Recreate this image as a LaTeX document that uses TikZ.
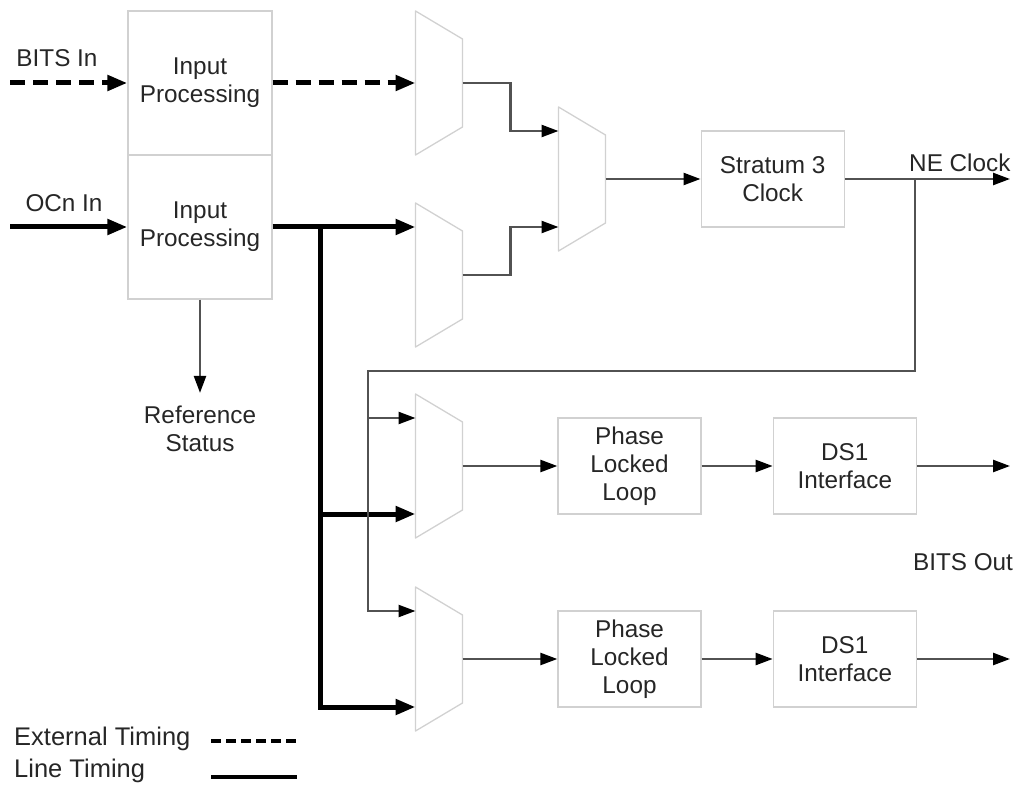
\documentclass[tikz,border=0pt]{standalone}
\usepackage{fontspec}
\setmainfont{Liberation Sans}
\usetikzlibrary{arrows.meta,calc,positioning}

\begin{document}
\begin{tikzpicture}[x=1pt,y=-1pt,
    every node/.style={font=\fontsize{24.3}{28}\selectfont, text=black!85},
    blk/.style={draw=black!18, line width=1.3pt, align=center, inner sep=0pt,
      minimum width=143pt, minimum height=96pt},
    mux/.style={minimum width=47pt, minimum height=144pt, inner sep=0pt, outer sep=0pt},
    muxline/.style={draw=black!18, line width=1.3pt, line join=round},
    wire/.style={draw=black!68, line width=2.4pt},
    sig/.style={wire, -{Triangle[length=17pt,width=12pt,color=black]}},
    lt/.style={draw=black, line width=5pt, line join=miter},
    et/.style={lt, dash pattern=on 15pt off 8pt},
    bigtip/.style={-{Triangle[length=20pt,width=15pt]}},
    legend/.style={font=\fontsize{25.5}{28}\selectfont, anchor=base west, inner sep=0pt}]
  \useasboundingbox (0,0) rectangle (1022,791);

  % input stage
  \node[blk, minimum width=144pt, minimum height=144pt] (inA) at (200,83) {Input\\Processing};
  \node[blk, minimum width=144pt, minimum height=144pt] (inB) at (200,227) {Input\\Processing};
  \node (bitsin) at (57,58) {BITS In};
  \node (ocnin) at (64,203) {OCn In};
  \node[align=center, inner sep=0pt] (refst) at (200,429) {Reference\\Status};

  % selectors
  \node[mux] (muxA) at (439,83) {};
  \node[mux] (muxB) at (439,275) {};
  \node[mux] (muxC) at (582,179) {};
  \node[mux] (muxD) at (439,466) {};
  \node[mux] (muxE) at (439,659) {};
  \foreach \m in {muxA,muxB,muxC,muxD,muxE}
    \draw[muxline] (\m.north west) -- ([yshift=-28pt]\m.north east)
      -- ([yshift=28pt]\m.south east) -- (\m.south west) -- cycle;
  \foreach \m in {muxB,muxC,muxD,muxE} {
    \coordinate (\m-hi) at ([yshift=48pt]\m.west);
    \coordinate (\m-lo) at ([yshift=-48pt]\m.west);
  }

  % clock and outputs
  \node[blk] (strat) [right=95pt of muxC] {Stratum 3\\Clock};
  \node[anchor=east] (neclk) at (1014,163) {NE Clock};
  \node[blk] (pllA) at (629.5,466) {Phase\\Locked\\Loop};
  \node[blk] (dsA) [right=71pt of pllA] {DS1\\Interface};
  \node[blk] (pllB) at (629.5,659) {Phase\\Locked\\Loop};
  \node[blk] (dsB) [right=71pt of pllB] {DS1\\Interface};
  \node (bitsout) at (963,562) {BITS Out};

  \coordinate (srcA) at (10,83);
  \coordinate (srcB) at (10,227);
  \coordinate (tapB) at (320,227);
  \coordinate (tapC) at (915,179);
  \coordinate (fbk) at (368,371);
  \coordinate (clkout) at (1010,179);
  \coordinate (outA) at (1010,466);
  \coordinate (outB) at (1010,659);

  % external and line timing
  \draw[et, bigtip] (srcA) -- (inA.west);
  \draw[et, bigtip] (inA.east) -- (muxA.west);
  \draw[lt, bigtip] (srcB) -- (inB.west);
  \draw[lt, bigtip] (inB.east) -- (muxB-hi);
  \draw[lt, bigtip] (tapB) |- (muxE-lo);
  \draw[lt, bigtip] (tapB |- muxD-lo) -- (muxD-lo);

  \draw[sig] (inB.south) -- (refst.north) [shorten >=13pt];
  \draw[sig] (muxA.east) -- ++(48,0) |- (muxC-hi);
  \draw[sig] (muxB.east) -- ++(48,0) |- (muxC-lo);
  \draw[sig] (muxC.east) -- (strat.west);
  \draw[sig] (strat.east) -- (clkout);
  \draw[sig] (tapC) |- (fbk) |- (muxE-hi);
  \draw[sig] (fbk |- muxD-hi) -- (muxD-hi);

  \draw[sig] (muxD.east) -- (pllA.west);
  \draw[sig] (pllA.east) -- (dsA.west);
  \draw[sig] (dsA.east) -- (outA);
  \draw[sig] (muxE.east) -- (pllB.west);
  \draw[sig] (pllB.east) -- (dsB.west);
  \draw[sig] (dsB.east) -- (outB);

  % legend
  \node[legend] (lgext) at (14,745) {External Timing};
  \node[legend] (lgline) at (14,777) {Line Timing};
  \draw[lt, line width=4pt, dash pattern=on 10pt off 5pt] (211,741) -- (297,741);
  \draw[lt, line width=4pt] (211,777) -- (297,777);
\end{tikzpicture}
\end{document}
